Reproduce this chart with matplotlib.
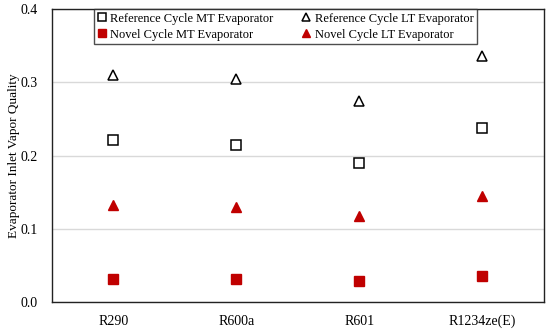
import matplotlib
matplotlib.use("Agg")
import matplotlib.pyplot as plt

# refrigerants and evaporator inlet vapor quality
refrigerants = ["R290", "R600a", "R601", "R1234ze(E)"]
ref_mt = [0.221, 0.214, 0.190, 0.237]
ref_lt = [0.310, 0.305, 0.275, 0.336]
novel_mt = [0.032, 0.031, 0.028, 0.035]
novel_lt = [0.132, 0.130, 0.118, 0.145]
y_ticks = [0.0, 0.1, 0.2, 0.3, 0.4]

RED = "#C00000"

plt.rcParams["font.family"] = ["Liberation Serif", "DejaVu Serif"]


def plot_chart(output_path="out.png"):
    fig = plt.figure(figsize=(5.5, 3.31), dpi=100)
    ax = fig.add_axes([0.0945, 0.0876, 0.8945, 0.8852])

    x = range(len(refrigerants))
    h1, = ax.plot(x, ref_mt, ls="none", marker="s", ms=7, mfc="white",
                  mec="black", mew=1.1, label="Reference Cycle MT Evaporator")
    h2, = ax.plot(x, novel_mt, ls="none", marker="s", ms=7.5, mfc=RED,
                  mec=RED, label="Novel Cycle MT Evaporator")
    h3, = ax.plot(x, ref_lt, ls="none", marker="^", ms=7, mfc="white",
                  mec="black", mew=1.1, label="Reference Cycle LT Evaporator")
    h4, = ax.plot(x, novel_lt, ls="none", marker="^", ms=7.5, mfc=RED,
                  mec=RED, label="Novel Cycle LT Evaporator")

    ax.set_xlim(-0.5, len(refrigerants) - 0.5)
    ax.set_ylim(0, 0.4)
    ax.set_xticks(list(x))
    ax.set_xticklabels(refrigerants, fontsize=10)
    ax.set_yticks(y_ticks)
    ax.set_yticklabels([f"{v:.1f}" for v in y_ticks], fontsize=10)
    ax.tick_params(axis="x", length=0, pad=9)
    ax.tick_params(axis="y", length=0, pad=10)
    ax.yaxis.grid(True, color="#d9d9d9", lw=1)
    ax.set_axisbelow(True)
    for s in ax.spines.values():
        s.set_color("#222222")
        s.set_linewidth(1)
    ax.set_ylabel("Evaporator Inlet Vapor Quality", fontsize=9.5)
    ax.yaxis.set_label_coords(-0.066, 0.5)

    leg = ax.legend(handles=[h1, h2, h3, h4], ncol=2, loc="upper left",
                    bbox_to_anchor=(0.085, 1.0), fontsize=9, frameon=True,
                    fancybox=False, edgecolor="#222222", handlelength=0.7,
                    handletextpad=0.3, columnspacing=2.3, labelspacing=0.3,
                    borderpad=0.3, borderaxespad=0, markerscale=0.85)
    leg.get_frame().set_linewidth(1)

    fig.savefig(output_path, dpi=100)
    plt.close(fig)


if __name__ == "__main__":
    plot_chart()
